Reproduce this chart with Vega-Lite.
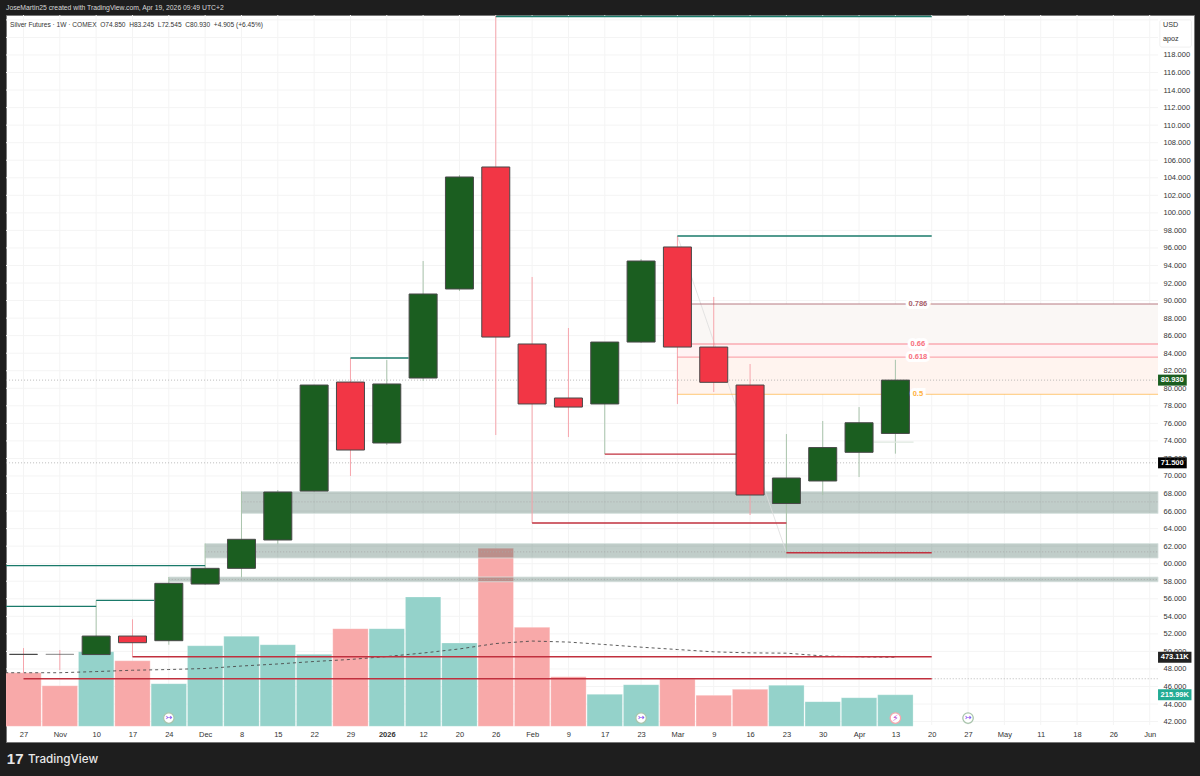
{
  "$schema": "https://vega.github.io/schema/vega-lite/v6.json",
  "width": 1188,
  "height": 727,
  "autosize": {"type": "none"},
  "padding": {"left": 6, "top": 15, "right": 6, "bottom": 34},
  "background": "#1e1e1e",
  "view": {"fill": "#ffffff", "stroke": "#777777"},
  "title": {
    "text": "JoseMartin25 created with TradingView.com, Apr 19, 2026 09:49 UTC+2",
    "anchor": "start",
    "frame": "group",
    "offset": 3,
    "fontSize": 6.8,
    "fontWeight": "normal",
    "font": "Liberation Sans",
    "color": "#d8d8d8"
  },
  "config": {"font": "Liberation Sans"},
  "datasets": {
    "weeks": [
      {"i": 0, "week": "2025-10-27", "open": 49.66, "high": 50.38, "low": 46.96, "close": 49.66, "dir": "flat", "vol": 367, "side": "down"},
      {"i": 1, "week": "2025-11-03", "open": 49.66, "high": 50.16, "low": 47.87, "close": 49.66, "dir": "flat2", "vol": 278, "side": "down"},
      {"i": 2, "week": "2025-11-10", "open": 49.64, "high": 55.82, "low": 49.64, "close": 51.75, "dir": "up", "vol": 511, "side": "up"},
      {"i": 3, "week": "2025-11-17", "open": 51.75, "high": 53.66, "low": 49.39, "close": 50.99, "dir": "down", "vol": 449, "side": "down"},
      {"i": 4, "week": "2025-11-24", "open": 51.22, "high": 58.48, "low": 50.76, "close": 57.76, "dir": "up", "vol": 292, "side": "up"},
      {"i": 5, "week": "2025-12-01", "open": 57.68, "high": 62.3, "low": 57.57, "close": 59.47, "dir": "up", "vol": 552, "side": "up"},
      {"i": 6, "week": "2025-12-08", "open": 59.47, "high": 68.23, "low": 58.44, "close": 62.78, "dir": "up", "vol": 617, "side": "up"},
      {"i": 7, "week": "2025-12-15", "open": 62.7, "high": 68.4, "low": 62.24, "close": 68.17, "dir": "up", "vol": 559, "side": "up"},
      {"i": 8, "week": "2025-12-22", "open": 68.28, "high": 80.4, "low": 68.2, "close": 80.37, "dir": "up", "vol": 493, "side": "up"},
      {"i": 9, "week": "2025-12-29", "open": 80.71, "high": 83.45, "low": 70.0, "close": 72.96, "dir": "down", "vol": 669, "side": "down"},
      {"i": 10, "week": "2026-01-05", "open": 73.76, "high": 83.22, "low": 73.53, "close": 80.49, "dir": "up", "vol": 669, "side": "up"},
      {"i": 11, "week": "2026-01-12", "open": 81.17, "high": 94.51, "low": 80.83, "close": 90.75, "dir": "up", "vol": 886, "side": "up"},
      {"i": 12, "week": "2026-01-20", "open": 91.32, "high": 104.32, "low": 91.09, "close": 104.09, "dir": "up", "vol": 571, "side": "up"},
      {"i": 13, "week": "2026-01-26", "open": 105.23, "high": 122.5, "low": 74.67, "close": 85.84, "dir": "down", "vol": 1219, "side": "down"},
      {"i": 14, "week": "2026-02-02", "open": 85.05, "high": 92.69, "low": 64.64, "close": 78.21, "dir": "down", "vol": 678, "side": "down"},
      {"i": 15, "week": "2026-02-09", "open": 78.89, "high": 86.87, "low": 74.44, "close": 77.86, "dir": "down", "vol": 340, "side": "down"},
      {"i": 16, "week": "2026-02-17", "open": 78.21, "high": 85.27, "low": 72.5, "close": 85.27, "dir": "up", "vol": 219, "side": "up"},
      {"i": 17, "week": "2026-02-23", "open": 85.27, "high": 94.74, "low": 85.16, "close": 94.51, "dir": "up", "vol": 285, "side": "up"},
      {"i": 18, "week": "2026-03-02", "open": 96.11, "high": 97.36, "low": 78.21, "close": 84.7, "dir": "down", "vol": 322, "side": "down"},
      {"i": 19, "week": "2026-03-09", "open": 84.7, "high": 90.41, "low": 79.57, "close": 80.68, "dir": "down", "vol": 212, "side": "down"},
      {"i": 20, "week": "2026-03-16", "open": 80.37, "high": 82.77, "low": 65.55, "close": 67.83, "dir": "down", "vol": 253, "side": "down"},
      {"i": 21, "week": "2026-03-23", "open": 66.86, "high": 74.78, "low": 61.22, "close": 69.77, "dir": "up", "vol": 281, "side": "up"},
      {"i": 22, "week": "2026-03-30", "open": 69.43, "high": 76.27, "low": 67.83, "close": 73.24, "dir": "up", "vol": 169, "side": "up"},
      {"i": 23, "week": "2026-04-06", "open": 72.7, "high": 77.86, "low": 69.88, "close": 76.07, "dir": "up", "vol": 196, "side": "up"},
      {"i": 24, "week": "2026-04-13", "open": 74.85, "high": 83.245, "low": 72.545, "close": 80.93, "dir": "up", "vol": 215.99, "side": "up"}
    ],
    "ma": [
      {"i": -1, "ma": 367}, {"i": 0, "ma": 367}, {"i": 1, "ma": 367}, {"i": 2, "ma": 375}, {"i": 3, "ma": 384},
      {"i": 4, "ma": 389}, {"i": 5, "ma": 396}, {"i": 6, "ma": 413}, {"i": 7, "ma": 427}, {"i": 8, "ma": 444},
      {"i": 9, "ma": 458}, {"i": 10, "ma": 478}, {"i": 11, "ma": 502}, {"i": 12, "ma": 530}, {"i": 13, "ma": 567},
      {"i": 14, "ma": 584}, {"i": 15, "ma": 577}, {"i": 16, "ma": 560}, {"i": 17, "ma": 542}, {"i": 18, "ma": 526},
      {"i": 19, "ma": 510}, {"i": 20, "ma": 503}, {"i": 21, "ma": 501}, {"i": 22, "ma": 482}, {"i": 23, "ma": 476},
      {"i": 24, "ma": 473.11}
    ],
    "levels": [
      {"from": 13, "to": 25, "price": 122.39, "kind": "teal"},
      {"from": 18, "to": 25, "price": 97.36, "kind": "teal"},
      {"from": 9, "to": 10.6, "price": 83.45, "kind": "teal"},
      {"from": -0.48, "to": 5, "price": 59.79, "kind": "teal"},
      {"from": -0.48, "to": 2, "price": 55.14, "kind": "teal"},
      {"from": 2, "to": 3.6, "price": 55.82, "kind": "teal"},
      {"from": 16, "to": 20, "price": 72.5, "kind": "red"},
      {"from": 14, "to": 21, "price": 64.64, "kind": "red"},
      {"from": 21, "to": 25, "price": 61.25, "kind": "red"},
      {"from": 3, "to": 25, "price": 49.39, "kind": "red"},
      {"from": 0, "to": 25, "price": 46.88, "kind": "red"},
      {"from": 18, "to": 31.23, "price": 89.61, "kind": "0.786"},
      {"from": 18, "to": 31.23, "price": 85.05, "kind": "0.66"},
      {"from": 18, "to": 31.23, "price": 83.56, "kind": "0.618"},
      {"from": 18, "to": 31.23, "price": 79.31, "kind": "0.5"},
      {"from": 23.4, "to": 24.5, "price": 73.87, "kind": "pale"}
    ],
    "zones": [
      {"top": 89.61, "bottom": 85.05, "zone": "a"},
      {"top": 85.05, "bottom": 83.56, "zone": "b"},
      {"top": 83.56, "bottom": 79.31, "zone": "c"}
    ],
    "bands": [
      {"from": 6, "top": 68.23, "bottom": 65.72},
      {"from": 5, "top": 62.3, "bottom": 60.65},
      {"from": 4, "top": 58.48, "bottom": 57.94}
    ],
    "dotted": [
      {"from": -0.48, "price": 80.93},
      {"from": -0.48, "price": 71.5},
      {"from": 25, "price": 46.88},
      {"from": 6, "price": 67.05},
      {"from": 5, "price": 61.35},
      {"from": 4, "price": 58.2}
    ],
    "swing": [
      {"i": 18, "price": 97.36},
      {"i": 21, "price": 61.25}
    ],
    "fiblabels": [
      {"price": 89.61, "kind": "0.786"},
      {"price": 85.05, "kind": "0.66"},
      {"price": 83.56, "kind": "0.618"},
      {"price": 79.31, "kind": "0.5"}
    ],
    "events": [
      {"i": 4, "glyph": "↣", "kind": "split"},
      {"i": 17, "glyph": "↣", "kind": "split"},
      {"i": 24, "glyph": "⚡", "kind": "earn"},
      {"i": 26, "glyph": "↣", "kind": "split"}
    ],
    "xticks": [
      {"i": 0}, {"i": 1}, {"i": 2}, {"i": 3}, {"i": 4}, {"i": 5}, {"i": 6}, {"i": 7},
      {"i": 8}, {"i": 9}, {"i": 10}, {"i": 11}, {"i": 12}, {"i": 13}, {"i": 14}, {"i": 15},
      {"i": 16}, {"i": 17}, {"i": 18}, {"i": 19}, {"i": 20}, {"i": 21}, {"i": 22}, {"i": 23},
      {"i": 24}, {"i": 25}, {"i": 26}, {"i": 27}, {"i": 28}, {"i": 29}, {"i": 30}, {"i": 31}
    ],
    "yticks": [
      {"p": 42}, {"p": 44}, {"p": 46}, {"p": 48}, {"p": 50}, {"p": 52}, {"p": 54}, {"p": 56}, {"p": 58}, {"p": 60},
      {"p": 62}, {"p": 64}, {"p": 66}, {"p": 68}, {"p": 70}, {"p": 72}, {"p": 74}, {"p": 76}, {"p": 78}, {"p": 80},
      {"p": 82}, {"p": 84}, {"p": 86}, {"p": 88}, {"p": 90}, {"p": 92}, {"p": 94}, {"p": 96}, {"p": 98}, {"p": 100},
      {"p": 102}, {"p": 104}, {"p": 106}, {"p": 108}, {"p": 110}, {"p": 112}, {"p": 114}, {"p": 116}, {"p": 118}, {"p": 120}, {"p": 122}
    ]
  },
  "resolve": {"scale": {"y": "independent", "color": "independent", "fill": "independent", "stroke": "independent"}, "axis": {"x": "independent"}},
  "layer": [
    {
      "data": {"name": "yticks"},
      "mark": {"type": "rule", "color": "#f4f4f4", "strokeWidth": 1},
      "encoding": {
        "y": {
          "field": "p",
          "type": "quantitative",
          "scale": {"domain": [39.67, 122.56], "zero": false, "nice": false},
          "title": null,
          "axis": {
            "orient": "right",
            "offset": -36,
            "zindex": 1,
            "values": [42,44,46,48,50,52,54,56,58,60,62,64,66,68,70,72,74,76,78,80,82,84,86,88,90,92,94,96,98,100,102,104,106,108,110,112,114,116,118],
            "format": ".3f",
            "labelFontSize": 7.5,
            "labelColor": "#333333",
            "labelPadding": 5,
            "labelOverlap": false,
            "labelBound": false,
            "labelFlush": false,
            "domain": false,
            "ticks": false,
            "grid": false
          }
        },
        "x": {"datum": -0.482, "type": "quantitative", "scale": {"domain": [-0.482, 32.22], "zero": false, "nice": false, "padding": 0}, "axis": null},
        "x2": {"datum": 31.23}
      }
    },
    {
      "data": {"name": "xticks"},
      "mark": {"type": "rule", "color": "#f4f4f4", "strokeWidth": 1},
      "encoding": {
        "x": {
          "field": "i",
          "type": "quantitative",
          "title": null,
          "axis": {
            "orient": "bottom",
            "offset": -17,
            "zindex": 1,
            "values": [0,1,2,3,4,5,6,7,8,9,10,11,12,13,14,15,16,17,18,19,20,21,22,23,24,25,26,27,28,29,30,31],
            "labelExpr": "['27','Nov','10','17','24','Dec','8','15','22','29','2026','12','20','26','Feb','9','17','23','Mar','9','16','23','30','Apr','13','20','27','May','11','18','26','Jun'][datum.value]",
            "labelFontWeight": {"condition": {"test": "datum.value == 10", "value": "bold"}, "value": "normal"},
            "labelFontSize": 7.5,
            "labelColor": "#333333",
            "labelPadding": 5,
            "labelOverlap": false,
            "labelBound": false,
            "labelFlush": false,
            "domain": false,
            "ticks": false,
            "grid": false
          }
        },
        "y": {"datum": 41.6, "type": "quantitative", "scale": {"domain": [39.67, 122.56], "zero": false, "nice": false}, "axis": null},
        "y2": {"datum": 122.56}
      }
    },
    {
      "layer": [
        {
          "data": {"name": "zones"},
          "mark": {"type": "rect"},
          "encoding": {
            "x": {"datum": 18, "type": "quantitative", "axis": null},
            "x2": {"datum": 31.23},
            "y": {"field": "top", "type": "quantitative", "scale": {"domain": [39.67, 122.56], "zero": false, "nice": false}, "axis": null},
            "y2": {"field": "bottom"},
            "color": {"field": "zone", "type": "nominal", "legend": null, "scale": {"domain": ["a", "b", "c"], "range": ["#faf7f5", "#fff3f3", "#fff4ef"]}}
          }
        }
      ]
    },
    {
      "layer": [
        {
          "data": {"name": "weeks"},
          "mark": {"type": "bar", "width": 35.4, "clip": true, "stroke": "#ffffff", "strokeOpacity": 0.45, "strokeWidth": 0.6},
          "encoding": {
            "x": {"field": "i", "type": "quantitative", "axis": null},
            "y": {"field": "vol", "type": "quantitative", "stack": null, "scale": {"domain": [-107.5, 4872.4], "zero": false, "nice": false}, "axis": null},
            "color": {"field": "side", "type": "nominal", "legend": null, "scale": {"domain": ["up", "down", "ma", "last"], "range": ["#94d2ca", "#f8a9a9", "#222222", "#22ab94"]}}
          }
        },
        {
          "data": {"name": "ma"},
          "mark": {"type": "line", "color": "#4a4a4a", "strokeWidth": 0.9, "strokeDash": [3, 3], "clip": true},
          "encoding": {
            "x": {"field": "i", "type": "quantitative", "axis": null},
            "y": {"field": "ma", "type": "quantitative", "axis": null}
          }
        },
        {
          "data": {"values": [{"vol": 473.11, "tag": "ma", "label": "473.11K"}, {"vol": 215.99, "tag": "last", "label": "215.99K"}]},
          "mark": {"type": "rule", "strokeWidth": 11},
          "encoding": {
            "x": {"datum": 31.23, "type": "quantitative", "axis": null},
            "x2": {"datum": 32.15},
            "y": {"field": "vol", "type": "quantitative", "axis": null},
            "color": {"field": "tag", "type": "nominal", "legend": null}
          }
        },
        {
          "data": {"values": [{"vol": 473.11, "label": "473.11K"}, {"vol": 215.99, "label": "215.99K"}]},
          "mark": {"type": "text", "color": "#ffffff", "fontSize": 7.5, "align": "center", "baseline": "middle", "fontWeight": "bold"},
          "encoding": {
            "x": {"datum": 31.69, "type": "quantitative", "axis": null},
            "y": {"field": "vol", "type": "quantitative", "axis": null},
            "text": {"field": "label"}
          }
        }
      ]
    },
    {
      "layer": [
        {
          "data": {"name": "bands"},
          "mark": {"type": "rect", "fill": "#1b4d3e", "fillOpacity": 0.28, "stroke": "#d8e2df", "strokeWidth": 0.8},
          "encoding": {
            "x": {"field": "from", "type": "quantitative", "axis": null},
            "x2": {"datum": 31.23},
            "y": {"field": "top", "type": "quantitative", "scale": {"domain": [39.67, 122.56], "zero": false, "nice": false}, "axis": null},
            "y2": {"field": "bottom"}
          }
        },
        {
          "data": {"name": "dotted"},
          "mark": {"type": "rule", "color": "#a8a8a8", "strokeWidth": 0.8, "strokeDash": [1, 2]},
          "encoding": {
            "x": {"field": "from", "type": "quantitative", "axis": null},
            "x2": {"datum": 31.23},
            "y": {"field": "price", "type": "quantitative", "axis": null}
          }
        },
        {
          "data": {"name": "swing"},
          "mark": {"type": "line", "color": "#dddddd", "strokeWidth": 0.8},
          "encoding": {
            "x": {"field": "i", "type": "quantitative", "axis": null},
            "y": {"field": "price", "type": "quantitative", "axis": null}
          }
        },
        {
          "data": {"name": "weeks"},
          "mark": {"type": "rule", "strokeWidth": 1},
          "encoding": {
            "x": {"field": "i", "type": "quantitative", "axis": null},
            "y": {"field": "low", "type": "quantitative", "axis": null},
            "y2": {"field": "high"},
            "stroke": {"field": "dir", "type": "nominal", "legend": null, "scale": {"domain": ["up", "down", "flat", "flat2"], "range": ["#a9c4ac", "#f6a5ac", "#f6a5ac", "#f6a5ac"]}}
          }
        },
        {
          "data": {"name": "levels"},
          "mark": {"type": "rule", "strokeWidth": 1.3},
          "encoding": {
            "x": {"field": "from", "type": "quantitative", "axis": null},
            "x2": {"field": "to"},
            "y": {"field": "price", "type": "quantitative", "axis": null},
            "color": {"field": "kind", "type": "nominal", "legend": null, "scale": {"domain": ["teal", "red", "0.786", "0.66", "0.618", "0.5", "pale"], "range": ["#1a7a6a", "#c1303e", "#a8606a", "#f7707d", "#f7707d", "#ffb13d", "#dfe8e0"]}},
            "opacity": {"condition": {"test": "indexof(['0.786','0.66','0.618','0.5'], datum.kind) >= 0", "value": 0.55}, "value": 1}
          }
        },
        {
          "data": {"name": "weeks"},
          "mark": {"type": "bar", "width": 28, "orient": "vertical", "stroke": "#484848", "strokeWidth": 1},
          "encoding": {
            "x": {"field": "i", "type": "quantitative", "axis": null},
            "y": {"field": "open", "type": "quantitative", "axis": null},
            "y2": {"field": "close"},
            "fill": {"field": "dir", "type": "nominal", "legend": null, "scale": {"domain": ["up", "down", "flat", "flat2"], "range": ["#1b5e20", "#f23645", "#333333", "#888888"]}},
            "opacity": {"condition": {"test": "datum.dir == 'flat2'", "value": 0.55}, "value": 1}
          }
        },
        {
          "data": {"name": "fiblabels"},
          "mark": {"type": "text", "color": "#ffffff", "stroke": "#ffffff", "strokeWidth": 6, "fontSize": 7.5, "align": "center", "baseline": "middle"},
          "encoding": {
            "x": {"datum": 24.62, "type": "quantitative", "axis": null},
            "y": {"field": "price", "type": "quantitative", "axis": null},
            "text": {"field": "kind"}
          }
        },
        {
          "data": {"name": "fiblabels"},
          "mark": {"type": "text", "fontSize": 7.5, "fontWeight": "bold", "align": "center", "baseline": "middle"},
          "encoding": {
            "x": {"datum": 24.62, "type": "quantitative", "axis": null},
            "y": {"field": "price", "type": "quantitative", "axis": null},
            "text": {"field": "kind"},
            "color": {"field": "kind", "type": "nominal", "legend": null}
          }
        },
        {
          "data": {"name": "events"},
          "mark": {"type": "point", "shape": "circle", "filled": true, "fill": "#ffffff", "size": 110, "strokeWidth": 1.3, "opacity": 1},
          "encoding": {
            "x": {"field": "i", "type": "quantitative", "axis": null},
            "y": {"datum": 42.4, "type": "quantitative", "axis": null},
            "stroke": {"field": "kind", "type": "nominal", "legend": null, "scale": {"domain": ["up", "down", "flat", "flat2", "split", "earn"], "range": ["#a9c4ac", "#f6a5ac", "#f6a5ac", "#f6a5ac", "#7c4dff", "#9c27b0"]}}
          }
        },
        {
          "data": {"name": "events"},
          "transform": [{"filter": "datum.kind == 'split'"}],
          "mark": {"type": "text", "font": "DejaVu Sans", "fontSize": 8, "align": "center", "baseline": "middle", "color": "#7c3ff0"},
          "encoding": {
            "x": {"field": "i", "type": "quantitative", "axis": null},
            "y": {"datum": 42.4, "type": "quantitative", "axis": null},
            "text": {"field": "glyph"}
          }
        },
        {
          "data": {"name": "events"},
          "transform": [{"filter": "datum.kind == 'earn'"}],
          "mark": {"type": "text", "font": "DejaVu Sans", "fontSize": 9, "align": "center", "baseline": "middle", "color": "#b32ac8"},
          "encoding": {
            "x": {"field": "i", "type": "quantitative", "axis": null},
            "y": {"datum": 42.4, "type": "quantitative", "axis": null},
            "text": {"field": "glyph"}
          }
        },
        {
          "data": {"values": [{"price": 80.93, "tag": "80.930"}]},
          "mark": {"type": "rule", "strokeWidth": 11, "color": "#1b5e20"},
          "encoding": {
            "x": {"datum": 31.23, "type": "quantitative", "axis": null},
            "x2": {"datum": 32.02},
            "y": {"field": "price", "type": "quantitative", "axis": null}
          }
        },
        {
          "data": {"values": [{"price": 71.5, "tag": "71.500"}]},
          "mark": {"type": "rule", "strokeWidth": 11, "color": "#000000"},
          "encoding": {
            "x": {"datum": 31.23, "type": "quantitative", "axis": null},
            "x2": {"datum": 32.02},
            "y": {"field": "price", "type": "quantitative", "axis": null}
          }
        },
        {
          "data": {"values": [{"price": 80.93, "tag": "80.930"}, {"price": 71.5, "tag": "71.500"}]},
          "mark": {"type": "text", "color": "#ffffff", "fontSize": 7.5, "align": "center", "baseline": "middle", "fontWeight": "bold"},
          "encoding": {
            "x": {"datum": 31.62, "type": "quantitative", "axis": null},
            "y": {"field": "price", "type": "quantitative", "axis": null},
            "text": {"field": "tag"}
          }
        },
        {
          "data": {"values": [
            {"i": -0.37, "price": 121.42, "label": "Silver Futures · 1W · COMEX\u00a0\u00a0O74.850\u00a0\u00a0H83.245\u00a0\u00a0L72.545\u00a0\u00a0C80.930\u00a0\u00a0+4.905 (+6.45%)"}
          ]},
          "mark": {"type": "text", "color": "#333333", "fontSize": 6.6, "align": "left", "baseline": "middle"},
          "encoding": {
            "x": {"field": "i", "type": "quantitative", "axis": null},
            "y": {"field": "price", "type": "quantitative", "axis": null},
            "text": {"field": "label"}
          }
        },
        {
          "data": {"values": [{"price": 122, "bottom": 118.9}]},
          "mark": {"type": "rect", "fill": "#ffffff", "stroke": "#f0f0f0", "cornerRadius": 2},
          "encoding": {
            "x": {"datum": 31.28, "type": "quantitative", "axis": null},
            "x2": {"datum": 32.15},
            "y": {"field": "price", "type": "quantitative", "axis": null},
            "y2": {"field": "bottom"}
          }
        },
        {
          "data": {"values": [
            {"i": 31.37, "price": 121.42, "label": "USD"},
            {"i": 31.37, "price": 119.88, "label": "apoz"}
          ]},
          "mark": {"type": "text", "color": "#333333", "fontSize": 7.2, "align": "left", "baseline": "middle"},
          "encoding": {
            "x": {"field": "i", "type": "quantitative", "axis": null},
            "y": {"field": "price", "type": "quantitative", "axis": null},
            "text": {"field": "label"}
          }
        },
        {
          "data": {"values": [
            {"i": -0.46, "price": 37.73, "label": "17"}
          ]},
          "mark": {"type": "text", "color": "#e8e8e8", "fontSize": 15, "fontWeight": "bold", "align": "left", "baseline": "middle"},
          "encoding": {
            "x": {"field": "i", "type": "quantitative", "axis": null},
            "y": {"field": "price", "type": "quantitative", "axis": null},
            "text": {"field": "label"}
          }
        },
        {
          "data": {"values": [
            {"i": 0.124, "price": 37.73, "label": "TradingView"}
          ]},
          "mark": {"type": "text", "color": "#e8e8e8", "font": "Inter", "fontSize": 11.7, "fontWeight": 500, "align": "left", "baseline": "middle"},
          "encoding": {
            "x": {"field": "i", "type": "quantitative", "axis": null},
            "y": {"field": "price", "type": "quantitative", "axis": null},
            "text": {"field": "label"}
          }
        }
      ]
    }
  ]
}
